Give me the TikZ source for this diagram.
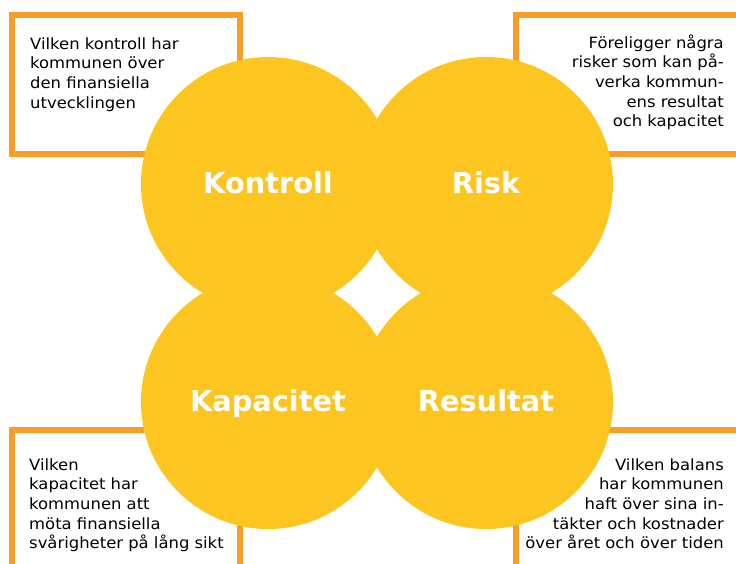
\documentclass[tikz,border=0pt]{standalone}
\usepackage{fontspec}
\setmainfont{DejaVu Sans}
\newfontfamily\boxfont[FakeStretch=1.06]{DejaVu Sans}
\usetikzlibrary{positioning}

\definecolor{ringyellow}{RGB}{253,197,32}
\definecolor{frameorange}{RGB}{248,157,42}

\tikzset{
    area/.style={circle, fill=ringyellow, minimum size=254pt, inner sep=0pt,
        text=white, font=\bfseries\fontsize{28.8}{30}\selectfont,
        text height=20pt, text depth=2pt},
    qframe/.style={draw=frameorange, line width=6pt},
    question/.style={inner sep=0pt, text width=220pt,
        font=\boxfont\fontsize{15.5}{19.7}\selectfont}
}

\begin{document}
\begin{tikzpicture}[x=1pt, y=-1pt]
        \clip (0,0) rectangle (736,563);
        \fill[white] (0,0) rectangle (736,563);

        % frames
        \draw[qframe] (12,15) rectangle (239.5,154);
        \draw[qframe] (516,15) rectangle (750,154);
        \draw[qframe] (12,580) rectangle (239.5,430);
        \draw[qframe] (516,580) rectangle (750,430);

        \node[question, align=left, anchor=base west] (qkontroll) at (30,49)
            {Vilken kontroll har\\kommunen över\\den finansiella\\utvecklingen};
        \node[question, align=right, anchor=base east] (qrisk) at (724,48)
            {Föreligger några\\risker som kan på-\\verka kommun-\\ens resultat\\och kapacitet};
        \node[question, align=left, anchor=base west] (qkapacitet) at (29,470)
            {Vilken\\kapacitet har\\kommunen att\\möta finansiella\\svårigheter på lång sikt};
        \node[question, align=right, anchor=base east] (qresultat) at (724,470)
            {Vilken balans\\har kommunen\\haft över sina in-\\täkter och kostnader\\över året och över tiden};

        % circles
        \node[area] (kontroll) at (268,184) {Kontroll};
        \node[area] (risk) at (486,184) {Risk};
        \node[area] (kapacitet) at (268,402) {Kapacitet};
        \node[area] (resultat) at (486,402) {Resultat};

    \end{tikzpicture}
\end{document}
